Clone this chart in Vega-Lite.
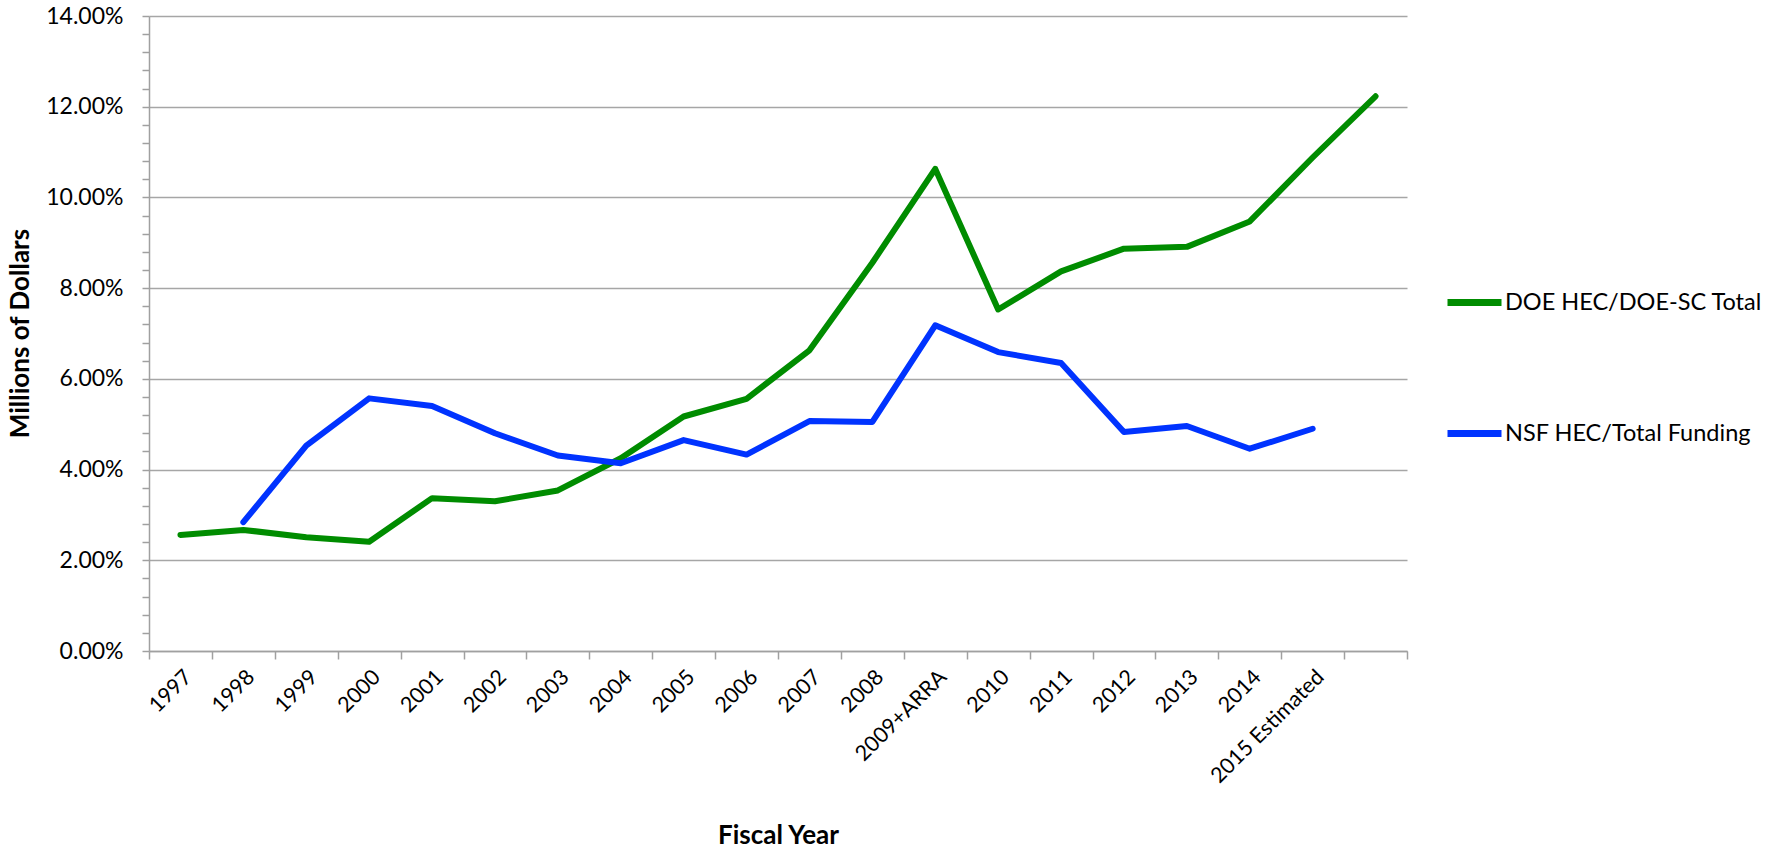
{
  "$schema": "https://vega.github.io/schema/vega-lite/v6.json",
  "autosize": {"type": "none"},
  "width": 1258,
  "height": 635,
  "padding": {"left": 149, "top": 16, "right": 358, "bottom": 198},
  "background": "white",
  "config": {
    "view": {"stroke": null},
    "font": "Lato"
  },
  "data": {
    "values": [
      {"year": "1997", "series": "DOE HEC/DOE-SC Total", "pct": 2.56},
      {"year": "1998", "series": "DOE HEC/DOE-SC Total", "pct": 2.67},
      {"year": "1999", "series": "DOE HEC/DOE-SC Total", "pct": 2.51},
      {"year": "2000", "series": "DOE HEC/DOE-SC Total", "pct": 2.41},
      {"year": "2001", "series": "DOE HEC/DOE-SC Total", "pct": 3.37},
      {"year": "2002", "series": "DOE HEC/DOE-SC Total", "pct": 3.30},
      {"year": "2003", "series": "DOE HEC/DOE-SC Total", "pct": 3.54},
      {"year": "2004", "series": "DOE HEC/DOE-SC Total", "pct": 4.25},
      {"year": "2005", "series": "DOE HEC/DOE-SC Total", "pct": 5.17},
      {"year": "2006", "series": "DOE HEC/DOE-SC Total", "pct": 5.56},
      {"year": "2007", "series": "DOE HEC/DOE-SC Total", "pct": 6.63},
      {"year": "2008", "series": "DOE HEC/DOE-SC Total", "pct": 8.56},
      {"year": "2009+ARRA", "series": "DOE HEC/DOE-SC Total", "pct": 10.63},
      {"year": "2010", "series": "DOE HEC/DOE-SC Total", "pct": 7.53},
      {"year": "2011", "series": "DOE HEC/DOE-SC Total", "pct": 8.37},
      {"year": "2012", "series": "DOE HEC/DOE-SC Total", "pct": 8.87},
      {"year": "2013", "series": "DOE HEC/DOE-SC Total", "pct": 8.91},
      {"year": "2014", "series": "DOE HEC/DOE-SC Total", "pct": 9.47},
      {"year": "2015 Estimated", "series": "DOE HEC/DOE-SC Total", "pct": 10.88},
      {"year": " ", "series": "DOE HEC/DOE-SC Total", "pct": 12.23},
      {"year": "1998", "series": "NSF HEC/Total Funding", "pct": 2.84},
      {"year": "1999", "series": "NSF HEC/Total Funding", "pct": 4.53},
      {"year": "2000", "series": "NSF HEC/Total Funding", "pct": 5.57},
      {"year": "2001", "series": "NSF HEC/Total Funding", "pct": 5.40},
      {"year": "2002", "series": "NSF HEC/Total Funding", "pct": 4.80},
      {"year": "2003", "series": "NSF HEC/Total Funding", "pct": 4.31},
      {"year": "2004", "series": "NSF HEC/Total Funding", "pct": 4.14},
      {"year": "2005", "series": "NSF HEC/Total Funding", "pct": 4.65},
      {"year": "2006", "series": "NSF HEC/Total Funding", "pct": 4.33},
      {"year": "2007", "series": "NSF HEC/Total Funding", "pct": 5.07},
      {"year": "2008", "series": "NSF HEC/Total Funding", "pct": 5.05},
      {"year": "2009+ARRA", "series": "NSF HEC/Total Funding", "pct": 7.18},
      {"year": "2010", "series": "NSF HEC/Total Funding", "pct": 6.59},
      {"year": "2011", "series": "NSF HEC/Total Funding", "pct": 6.35},
      {"year": "2012", "series": "NSF HEC/Total Funding", "pct": 4.83},
      {"year": "2013", "series": "NSF HEC/Total Funding", "pct": 4.96},
      {"year": "2014", "series": "NSF HEC/Total Funding", "pct": 4.46},
      {"year": "2015 Estimated", "series": "NSF HEC/Total Funding", "pct": 4.90}
    ]
  },
  "mark": {"type": "line", "strokeWidth": 6, "strokeCap": "round", "strokeJoin": "round"},
  "encoding": {
    "x": {
      "field": "year",
      "type": "ordinal",
      "sort": ["1997","1998","1999","2000","2001","2002","2003","2004","2005","2006","2007","2008","2009+ARRA","2010","2011","2012","2013","2014","2015 Estimated"," "],
      "scale": {"type": "band", "paddingInner": 0, "paddingOuter": 0},
      "axis": {
        "title": "Fiscal Year",
        "titleFont": "Lato",
        "titleFontSize": 26,
        "titleFontWeight": "bold",
        "titleColor": "black",
        "titleY": 184,
        "titleBaseline": "middle",
        "labelAngle": -45,
        "labelFont": "Lato",
        "labelFontSize": 21.5,
        "labelColor": "black",
        "labelAlign": "right",
        "labelBaseline": "top",
        "labelPadding": 7,
        "tickBand": "extent",
        "tickSize": 8,
        "tickColor": "#a0a0a0",
        "tickWidth": 1.5,
        "domainColor": "#a0a0a0",
        "domainWidth": 1.5,
        "grid": false
      }
    },
    "y": {
      "field": "pct",
      "type": "quantitative",
      "scale": {"domain": [0, 14], "nice": false},
      "axis": {
        "title": "Millions of Dollars",
        "titleFont": "Lato",
        "titleFontSize": 26,
        "titleFontWeight": "bold",
        "titleColor": "black",
        "titleX": -129,
        "titleY": 317,
        "titleBaseline": "middle",
        "titleAlign": "center",
        "titleAngle": -90,
        "values": [0,0.4,0.8,1.2,1.6,2,2.4,2.8,3.2,3.6,4,4.4,4.8,5.2,5.6,6,6.4,6.8,7.2,7.6,8,8.4,8.8,9.2,9.6,10,10.4,10.8,11.2,11.6,12,12.4,12.8,13.2,13.6,14],
        "labelExpr": "datum.value % 2 == 0 ? format(datum.value, '.2f') + '%' : ''",
        "labelFont": "Lato",
        "labelFontSize": 23,
        "labelColor": "black",
        "labelPadding": 19,
        "tickSize": 7,
        "tickColor": "#a0a0a0",
        "tickWidth": 1.5,
        "domainColor": "#a0a0a0",
        "domainWidth": 1.5,
        "grid": true,
        "gridColor": "#a6a6a6",
        "gridWidth": 1.5,
        "gridOpacity": {"condition": {"test": "datum.value % 2 == 0", "value": 1}, "value": 0}
      }
    },
    "color": {
      "field": "series",
      "type": "nominal",
      "scale": {"domain": ["DOE HEC/DOE-SC Total", "NSF HEC/Total Funding"], "range": ["#008c00", "#0033ff"]},
      "legend": {
        "title": null,
        "orient": "none",
        "legendX": 1295,
        "legendY": 256,
        "direction": "vertical",
        "symbolType": "stroke",
        "symbolSize": 2916,
        "symbolStrokeWidth": 7,
        "labelFont": "Lato",
        "labelFontSize": 23.5,
        "labelColor": "black",
        "labelOffset": 0,
        "rowPadding": 86,
        "labelLimit": 400
      }
    }
  }
}
